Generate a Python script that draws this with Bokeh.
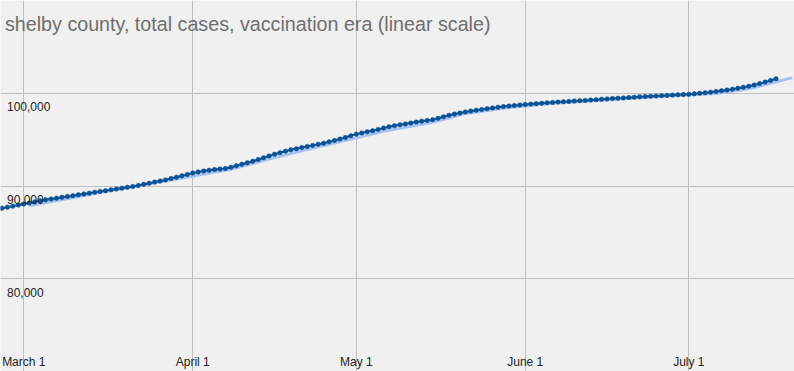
import pandas as pd
from bokeh.plotting import figure
from bokeh.models import Range1d, FixedTicker
from bokeh.core.properties import value
from bokeh.embed import file_html
from bokeh.resources import INLINE

TITLE = "shelby county, total cases, vaccination era (linear scale)"

# daily total cases, starting 2021-02-25
first_day = "2021-02-25"
total_cases = [
    87610, 87720, 87830, 87940, 88050, 88160, 88280, 88400, 88510, 88600,
    88690, 88780, 88870, 88960, 89050, 89140, 89230, 89320, 89410, 89500,
    89590, 89680, 89770, 89860, 89950, 90060, 90180, 90300, 90420, 90540,
    90660, 90800, 90950, 91100, 91250, 91400, 91520, 91620, 91700, 91770,
    91830, 91890, 92030, 92180, 92340, 92500, 92670, 92850, 93040, 93240,
    93420, 93590, 93750, 93900, 94020, 94140, 94260, 94380, 94500, 94610,
    94760, 94910, 95070, 95230, 95410, 95590, 95720, 95840, 95960, 96100,
    96240, 96380, 96500, 96610, 96690, 96790, 96890, 96990, 97070, 97150,
    97300, 97460, 97620, 97750, 97870, 97980, 98080, 98170, 98260, 98340,
    98420, 98490, 98560, 98620, 98680, 98730, 98780, 98830, 98880, 98930,
    98970, 99010, 99050, 99090, 99120, 99160, 99200, 99230, 99270, 99310,
    99350, 99390, 99430, 99470, 99500, 99540, 99570, 99610, 99640, 99680,
    99710, 99740, 99770, 99800, 99830, 99860, 99890, 99940, 99990, 100050,
    100120, 100190, 100270, 100350, 100440, 100540, 100650, 100760, 100890, 101040,
    101200, 101380, 101560,
]

# light trend line
trend_dates = ["2021-03-02", "2021-03-15", "2021-03-27", "2021-04-08", "2021-04-15",
               "2021-04-21", "2021-04-27", "2021-05-06", "2021-05-15", "2021-05-21",
               "2021-05-28", "2021-06-06", "2021-06-15", "2021-06-27", "2021-07-06",
               "2021-07-12", "2021-07-20"]
trend_values = [87870, 89300, 90550, 91800, 92900,
                93800, 94620, 95900, 96860, 97810,
                98390, 98920, 99250, 99710, 99960,
                100490, 101680]

x_tick_dates = ["2021-03-01", "2021-04-01", "2021-05-01", "2021-06-01", "2021-07-01"]
x_tick_labels = ["March 1", "April 1", "May 1", "June 1", "July 1"]
y_ticks = [80000, 90000, 100000]
y_tick_labels = ["80,000", "90,000", "100,000"]
y_grid_ticks = [70000, 80000, 90000, 100000, 110000]

BG = "#f0f0f0"
GRID = "#bfbfbf"
DARK = "#0b5394"
LIGHT = "#a4c2f4"
FONT = value("Liberation Sans")


def ms(ts):
    return pd.Timestamp(ts).value / 1e6


dates = pd.date_range(first_day, periods=len(total_cases), freq="D")
date_ms = [ms(d) for d in dates]
trend_ms = [ms(d) for d in trend_dates]
xtick_ms = [ms(d) for d in x_tick_dates]

DAY = 86400000.0
origin = ms("2021-03-01")
x_start = origin - 4.275 * DAY
x_end = origin + 141.39 * DAY
y_start, y_end = 70000, 110000

p = figure(width=794, height=371, x_axis_type="datetime",
           x_range=Range1d(x_start, x_end), y_range=Range1d(y_start, y_end),
           output_backend="svg", toolbar_location=None, min_border=0,
           background_fill_color=BG, border_fill_color=BG, outline_line_color=None)
p.xaxis.visible = False
p.yaxis.visible = False
p.xgrid.ticker = FixedTicker(ticks=xtick_ms)
p.ygrid.ticker = FixedTicker(ticks=y_grid_ticks)
p.xgrid.grid_line_color = GRID
p.ygrid.grid_line_color = GRID
p.xgrid.grid_line_width = 1
p.ygrid.grid_line_width = 1

p.line(trend_ms, trend_values, line_color=LIGHT, line_width=3)
p.line(date_ms, total_cases, line_color=DARK, line_width=2)
p.scatter(date_ms, total_cases, size=4.5, fill_color=DARK, line_color=DARK, line_width=0.5)

p.text(x=[x_start] * len(y_ticks), y=y_ticks, text=y_tick_labels,
       x_offset=6.5, y_offset=13.5, text_align="left", text_baseline="alphabetic",
       text_font=FONT, text_font_size="12px", text_color="#222222")

p.text(x=xtick_ms, y=[y_start] * len(xtick_ms), text=x_tick_labels,
       y_offset=-9.5, text_align="center", text_baseline="alphabetic",
       text_font=FONT, text_font_size="12px", text_color="#222222")

p.text(x=[x_start], y=[y_end], text=[TITLE], x_offset=4.5, y_offset=23.3,
       text_align="left", text_baseline="alphabetic",
       text_font=FONT, text_font_size="19.7px", text_color="#6e6e6e")

open("out.html", "w").write(file_html(p, INLINE))
